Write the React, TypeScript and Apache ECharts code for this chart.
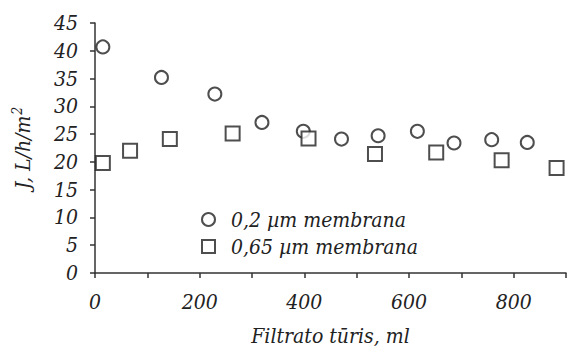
import React, { useEffect, useRef } from "react";
import * as echarts from "echarts";

const circleX = [15, 127, 229, 319, 398, 471, 541, 616, 686, 758, 826];
const circleY = [40.7, 35.2, 32.2, 27.1, 25.5, 24.1, 24.7, 25.5, 23.4, 24.0, 23.5];
const squareX = [15, 67, 143, 263, 408, 535, 652, 777, 882];
const squareY = [19.8, 22.0, 24.1, 25.1, 24.2, 21.4, 21.7, 20.3, 18.9];
const seriesNames = ["0,2 \u00b5m membrana", "0,65 \u00b5m membrana"];
const xLabels = [0, 200, 400, 600, 800];

const FONT = "DejaVu Serif Condensed";
const TXT = "#222";

export default function App() {
  const ref = useRef<HTMLDivElement>(null);
  useEffect(() => {
    if (!ref.current) return;
    const chart = echarts.init(ref.current, undefined, { renderer: "svg" });
    const markerStyle = { color: "#fff", borderColor: "#222", borderWidth: 2 };
    chart.setOption({
      animation: false,
      backgroundColor: "#fff",
      grid: { left: 95, right: 1, top: 23, bottom: 76, containLabel: false, outerBoundsMode: "none" },
      legend: {
        orient: "vertical",
        left: 196,
        top: 204,
        itemWidth: 13,
        itemHeight: 13,
        itemGap: 6,
        textStyle: {
          fontFamily: FONT,
          fontStyle: "italic",
          fontSize: 21,
          color: TXT,
          padding: [0, 0, 0, 11],
        },
        data: [
          { name: seriesNames[0], icon: "circle" },
          { name: seriesNames[1], icon: "rect" },
        ],
      },
      xAxis: {
        type: "value",
        min: 0,
        max: 900,
        interval: 100,
        name: "Filtrato t\u016bris, ml",
        nameLocation: "middle",
        nameGap: 52,
        nameTextStyle: { fontFamily: FONT, fontStyle: "italic", fontSize: 21, color: TXT },
        axisLine: { lineStyle: { color: "#333", width: 1.5 } },
        axisTick: { show: true, length: 5, lineStyle: { color: "#333", width: 1.5 } },
        splitLine: { show: false },
        axisLabel: {
          margin: 18,
          fontFamily: FONT,
          fontStyle: "italic",
          fontSize: 21,
          color: TXT,
          formatter: (v: number) => (xLabels.indexOf(v) >= 0 ? String(v) : ""),
        },
      },
      yAxis: {
        type: "value",
        min: 0,
        max: 45,
        interval: 5,
        name: "{a|J, L/h/m}{s|2}",
        nameLocation: "middle",
        nameGap: 59,
        nameTextStyle: {
          fontFamily: FONT,
          fontStyle: "italic",
          fontSize: 21,
          color: TXT,
          rich: {
            a: { fontFamily: FONT, fontStyle: "italic", fontSize: 21, color: TXT, lineHeight: 26 },
            s: { fontFamily: FONT, fontStyle: "italic", fontSize: 14, color: TXT, verticalAlign: "top", lineHeight: 26, padding: [0, 0, 8, 1] },
          },
        },
        axisLine: { show: true, lineStyle: { color: "#333", width: 1.5 } },
        axisTick: { show: true, length: 5, lineStyle: { color: "#333", width: 1.5 } },
        splitLine: { show: false },
        axisLabel: {
          margin: 17,
          fontFamily: FONT,
          fontStyle: "italic",
          fontSize: 21,
          color: TXT,
        },
      },
      series: [
        {
          name: seriesNames[0],
          type: "scatter",
          symbol: "circle",
          symbolSize: 13,
          itemStyle: markerStyle,
          data: circleX.map((x, i) => [x, circleY[i]]),
        },
        {
          name: seriesNames[1],
          type: "scatter",
          symbol: "rect",
          symbolSize: 14,
          itemStyle: markerStyle,
          data: squareX.map((x, i) => [x, squareY[i]]),
        },
      ],
    });
    return () => chart.dispose();
  }, []);
  return <div ref={ref} style={{ width: 567, height: 349, position: "absolute", left: 0, top: 0 }} />;
}
